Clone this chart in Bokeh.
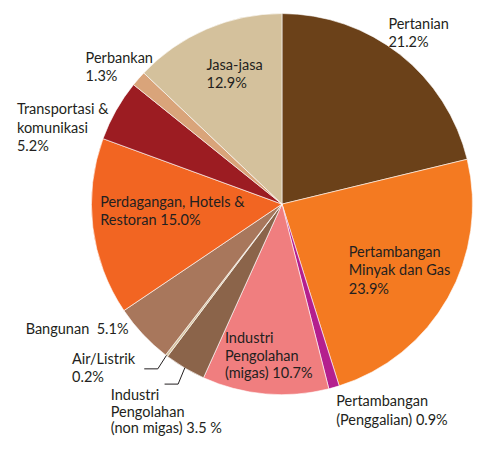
import math
from bokeh.plotting import figure
from bokeh.models import Range1d, ColumnDataSource
from bokeh.core.properties import value
from bokeh.embed import file_html
from bokeh.resources import INLINE

# ---- data (clockwise from 12 o'clock) ----
sectors = ["Pertanian", "Pertambangan Minyak dan Gas", "Pertambangan (Penggalian)",
           "Industri Pengolahan (migas)", "Industri Pengolahan (non migas)", "Air/Listrik",
           "Bangunan", "Perdagangan, Hotels & Restoran", "Transportasi & komunikasi",
           "Perbankan", "Jasa-jasa"]
shares = [21.2, 23.9, 0.9, 10.7, 3.5, 0.2, 5.1, 15.0, 5.2, 1.3, 12.9]
colors = ["#6b4119", "#f47a21", "#b41f8e", "#f07e7f", "#8b644a", "#d8c4a0",
          "#a8775c", "#f26522", "#9c1c22", "#d9a47a", "#d4c19c"]
label_templates = [
    ["Pertanian", "{v}%"],
    ["Pertambangan", "Minyak dan Gas", "{v}%"],
    ["Pertambangan", "(Penggalian) {v}%"],
    ["Industri", "Pengolahan", "(migas) {v}%"],
    ["Industri", "Pengolahan", "(non migas) {v} %"],
    ["Air/Listrik", "{v}%"],
    ["Bangunan\u00a0\u00a0{v}%"],
    ["Perdagangan, Hotels &", "Restoran {v}%"],
    ["Transportasi &", "komunikasi", "{v}%"],
    ["Perbankan", "{v}%"],
    ["Jasa-jasa", "{v}%"],
]

# ---- layout: data units are the reference picture's pixels (y downward) ----
REF_W, REF_H = 489, 457
W, H = 473, 441
CX, CY, R = 291, 211, 197
label_pos = [  # x, first baseline, line gap
    (401, 30, 19), (360, 266, 19), (347, 421, 19.5), (232, 355, 18.5),
    (114, 414, 17.5), (74, 377, 18.5), (26, 346, 19), (103, 214.5, 18),
    (17, 118, 19.3), (88, 65, 19), (213, 72, 18.5),
]
BASE_FIX = 6
FONT = "Lato"
FSIZE = "14.5px"
INK = "#231f20"

p = figure(width=W, height=H, output_backend="svg", toolbar_location=None,
           x_range=Range1d(0, REF_W), y_range=Range1d(-REF_H, 0),
           min_border=0, outline_line_color=None)
p.axis.visible = False
p.grid.visible = False
p.background_fill_color = "white"
p.border_fill_color = "white"

total = sum(shares)
starts, ends = [], []
cum = 0.0
for s in shares:
    starts.append(math.pi / 2 - 2 * math.pi * (cum + s) / total)
    ends.append(math.pi / 2 - 2 * math.pi * cum / total)
    cum += s

src = ColumnDataSource(dict(start=starts, end=ends, color=colors, name=sectors))
p.wedge(x=CX, y=-CY, radius=R, start_angle="start", end_angle="end",
        fill_color="color", line_color="white", line_width=0.6, source=src)

# leader lines for the two thin slices
def leader(idx, elbow_dx, elbow_dy, tail):
    mid = (starts[idx] + ends[idx]) / 2
    x0 = CX + R * math.cos(mid)
    y0 = -CY + R * math.sin(mid)
    x1 = x0 + elbow_dx
    y1 = y0 + elbow_dy
    p.line([x0, x1, x1 - tail], [y0, y1, y1], line_color=INK, line_width=1)

leader(5, -9, -14, 14)
leader(4, -7, -17, 14)

xs, ys, txt = [], [], []
for tmpl, (lx, ly, gap), v in zip(label_templates, label_pos, shares):
    for i, line in enumerate(tmpl):
        xs.append(lx)
        ys.append(-(ly - BASE_FIX + i * gap))
        txt.append(line.format(v=v))

p.text(x=xs, y=ys, text=txt, text_font=value(FONT), text_font_size=value(FSIZE),
       text_color=INK, text_baseline="alphabetic", text_align="left")

open("out.html", "w").write(file_html(p, INLINE))
